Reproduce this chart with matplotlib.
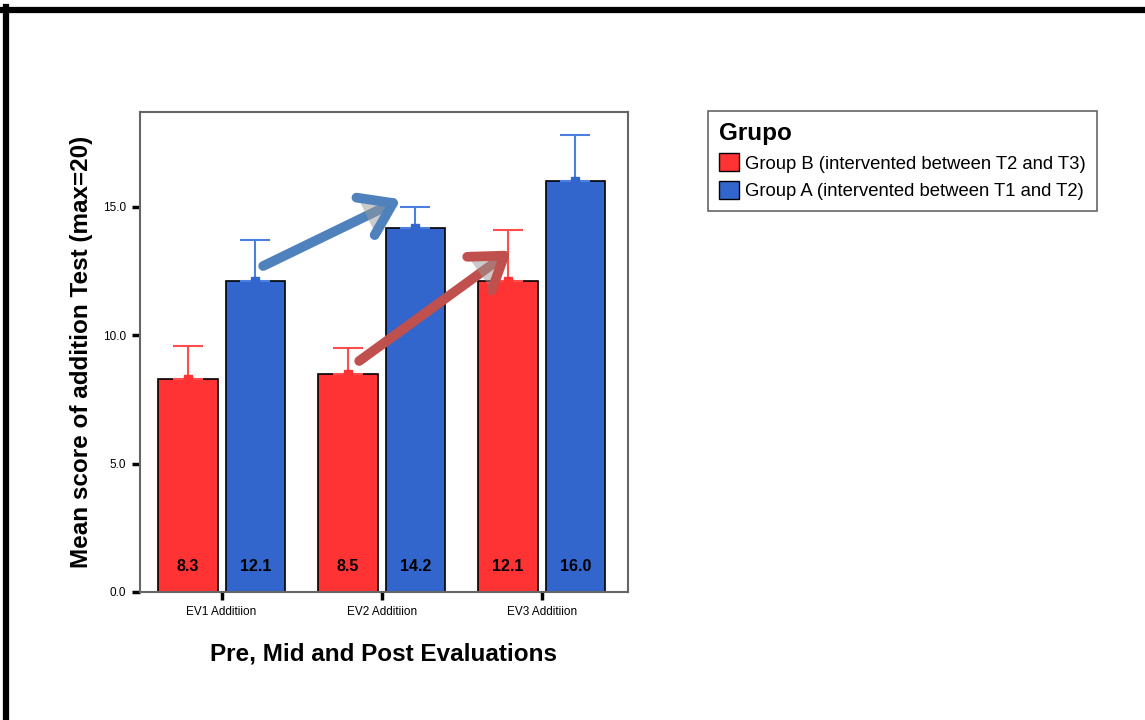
#! /usr/bin/env python3
import numpy as np
import matplotlib
matplotlib.use("Agg")
import matplotlib.pyplot as plt
import matplotlib.patheffects as pe
from matplotlib.lines import Line2D
from matplotlib.patches import Patch

plt.rcParams['font.family'] = ['Liberation Sans', 'DejaVu Sans']

# Daten
kategorien = ["EV1 Additiion", "EV2 Additiion", "EV3 Additiion"]
gruppe_b = [8.3, 8.5, 12.1]
gruppe_a = [12.1, 14.2, 16.0]
gruppe_b_oben = [9.6, 9.5, 14.1]    # obere Fehlerbalken
gruppe_a_oben = [13.7, 15.0, 17.8]
labels = ["Group B (intervented between T2 and T3)",
          "Group A (intervented between T1 and T2)"]

rot = "#ff3333"
blau = "#3366cc"
rot_err = "#ff4d4d"
blau_err = "#4d7fe0"

fig = plt.figure(figsize=(11.45, 7.2), dpi=100)
ax = fig.add_axes([140/1145, 1 - 592/720, 488/1145, 480/720])

x = np.arange(len(kategorien))
breite = 0.37
versatz = 0.21

for werte, oben, pos, farbe, efarbe in [(gruppe_b, gruppe_b_oben, x - versatz, rot, rot_err),
                                         (gruppe_a, gruppe_a_oben, x + versatz, blau, blau_err)]:
    ax.bar(pos, werte, width=breite, color=farbe, edgecolor="black", linewidth=1.2, zorder=2)
    fehler = np.array(oben) - np.array(werte)
    ax.errorbar(pos, werte, yerr=[np.zeros(3), fehler], fmt="none", ecolor=efarbe,
                elinewidth=1.5, capsize=11, capthick=1.5, zorder=3)
    ax.plot(pos, werte, "s", color=farbe, markersize=6, zorder=3)
    for p, w in zip(pos, werte):
        ax.text(p, 1.0, f"{w:.1f}", ha="center", va="center", fontsize=11.5, fontweight="bold",
                family=['Liberation Sans Narrow', 'Liberation Sans'], zorder=4)

# Pfeile
schatten = [pe.SimplePatchShadow(offset=(2, -2), shadow_rgbFace="#999999", alpha=0.5), pe.Normal()]
for start, ende, farbe in [((0.26, 12.7), (1.12, 15.3), "#4f81bd"),
                           ((0.86, 9.0), (1.81, 13.3), "#c0504d")]:
    ax.annotate("", xy=ende, xytext=start,
                arrowprops=dict(arrowstyle="->,head_length=1.1,head_width=0.75", color=farbe,
                                lw=7, shrinkA=0, shrinkB=0, mutation_scale=20,
                                path_effects=schatten), zorder=5)

ax.set_xlim(-0.51, 2.54)
ax.set_ylim(0, 18.7)
ax.set_xticks(x)
ax.set_xticklabels(kategorien, fontsize=8.5)
ax.set_yticks([0, 5, 10, 15])
ax.set_yticklabels(["0.0", "5.0", "10.0", "15.0"], fontsize=8.5)
ax.tick_params(axis="both", direction="out", length=6, width=2.5, color="black", pad=4)
for s in ax.spines.values():
    s.set_color("#666666")
    s.set_linewidth(1.5)

ax.set_ylabel("Mean score of addition Test (max=20)", fontsize=17.5, fontweight="bold", labelpad=7)
ax.set_xlabel("Pre, Mid and Post Evaluations", fontsize=17.5, fontweight="bold", labelpad=18)

# Legende
handles = [Patch(facecolor=rot, edgecolor="black"), Patch(facecolor=blau, edgecolor="black")]
leg = fig.legend(handles, labels, title="Grupo", loc="upper left",
                 bbox_to_anchor=(708/1145, 1 - 111/720), borderaxespad=0, fontsize=13.3,
                 fancybox=False, edgecolor="#666666", framealpha=1,
                 handlelength=1.1, handleheight=1.1, handletextpad=0.3, labelspacing=0.45,
                 borderpad=0.6)
leg.get_title().set_fontweight("bold")
leg.get_title().set_fontsize(17.5)
leg._legend_box.align = "left"
leg.get_frame().set_linewidth(1.2)

# Rahmen oben und links
fig.add_artist(Line2D([0, 1], [1 - 10/720, 1 - 10/720], color="black", lw=4.5, transform=fig.transFigure))
fig.add_artist(Line2D([6/1145, 6/1145], [0, 1 - 7/720], color="black", lw=4.5, transform=fig.transFigure))

fig.savefig("out.png", dpi=100)
